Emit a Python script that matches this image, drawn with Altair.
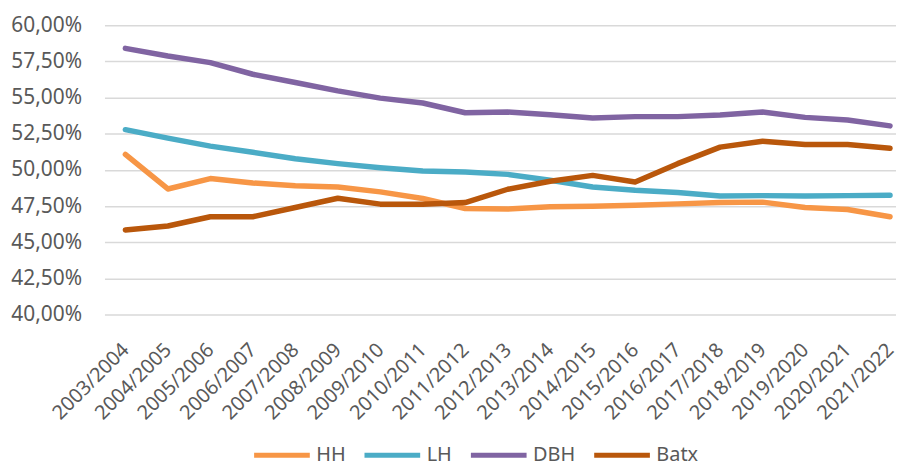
import altair as alt
import pandas as pd

years = ["2003/2004", "2004/2005", "2005/2006", "2006/2007", "2007/2008",
         "2008/2009", "2009/2010", "2010/2011", "2011/2012", "2012/2013",
         "2013/2014", "2014/2015", "2015/2016", "2016/2017", "2017/2018",
         "2018/2019", "2019/2020", "2020/2021", "2021/2022"]

hh = [51.07, 48.68, 49.40, 49.09, 48.91, 48.82, 48.48, 48.02, 47.33, 47.29,
      47.45, 47.49, 47.56, 47.65, 47.74, 47.77, 47.40, 47.26, 46.76]
lh = [52.78, 52.19, 51.64, 51.22, 50.77, 50.43, 50.15, 49.92, 49.85, 49.69,
      49.28, 48.82, 48.59, 48.43, 48.20, 48.22, 48.20, 48.22, 48.25]
dbh = [58.40, 57.87, 57.41, 56.61, 56.04, 55.46, 54.96, 54.62, 53.95, 54.00,
       53.81, 53.59, 53.68, 53.68, 53.79, 54.00, 53.63, 53.45, 53.04]
batx = [45.84, 46.12, 46.76, 46.76, 47.40, 48.04, 47.63, 47.63, 47.74, 48.66,
        49.21, 49.62, 49.16, 50.43, 51.57, 51.98, 51.75, 51.75, 51.50]

series_names = ["HH", "LH", "DBH", "Batx"]
series_colors = ["#F79646", "#4BACC6", "#8064A2", "#B9570B"]
y_ticks = [0.40, 0.425, 0.45, 0.475, 0.50, 0.525, 0.55, 0.575, 0.60]

rows = []
for name, vals in zip(series_names, [hh, lh, dbh, batx]):
    for i, (yr, v) in enumerate(zip(years, vals)):
        rows.append({"year": yr, "series": name, "value": v / 100.0, "order": i})
df = pd.DataFrame(rows)

FONT = "Noto Sans"
GREY = "#595959"

chart = alt.Chart(df).mark_line(strokeWidth=5.5, strokeCap="round", strokeJoin="round").encode(
    x=alt.X("year:N", sort=years, title=None,
            scale=alt.Scale(type="point", padding=0.3166, align=0.778),
            axis=alt.Axis(labelAngle=315, labelAlign="right", labelBaseline="middle",
                          labelPadding=32, ticks=False, domain=False, grid=False,
                          labelFontSize=20, labelColor=GREY, labelFont=FONT,
                          labelOverlap=False)),
    y=alt.Y("value:Q", title=None,
            scale=alt.Scale(domain=[0.40, 0.60], nice=False, zero=False),
            axis=alt.Axis(values=y_ticks, ticks=False, domain=False,
                          labelExpr="replace(format(datum.value, '.2%'), '.', ',')",
                          labelFontSize=21, labelColor=GREY, labelFont=FONT,
                          labelPadding=23, gridColor="#D9D9D9", gridWidth=1.5)),
    color=alt.Color("series:N", title=None,
                    scale=alt.Scale(domain=series_names, range=series_colors),
                    legend=alt.Legend(orient="none", legendX=148, legendY=402,
                                      direction="horizontal", symbolType="stroke",
                                      symbolStrokeWidth=5, symbolSize=3136,
                                      labelFontSize=20, labelColor=GREY, labelFont=FONT,
                                      labelOffset=4, columnPadding=8, gridAlign="none")),
    order="order:Q",
).properties(
    width=796, height=291,
    autosize=alt.AutoSizeParams(type="none"),
    padding={"left": 97, "top": 16, "right": 0, "bottom": 150},
).configure_view(stroke=None)

chart.save("out.html", embed_options={"renderer": "svg", "actions": False})
